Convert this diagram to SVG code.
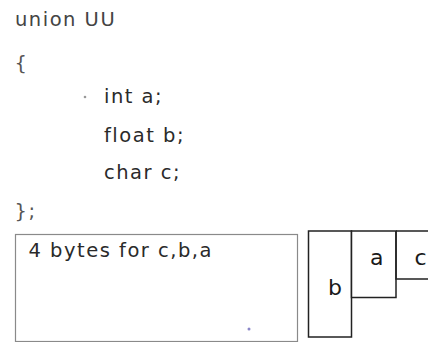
<svg xmlns="http://www.w3.org/2000/svg" width="428" height="342" viewBox="0 0 428 342">
<style>
.code{font-family:"DejaVu Sans","Verdana",sans-serif;font-size:19.5px;letter-spacing:1.5px;fill:#2a2a2a}
.lbl{font-family:"DejaVu Sans","Verdana",sans-serif;font-size:22px;fill:#1a1a1a}
.cell{fill:#ffffff;stroke:#222222;stroke-width:1.5}
</style>
<rect width="428" height="342" fill="#ffffff"/>
<g id="code">
<text class="code" x="15" y="26" style="fill:#444">union UU</text>
<text class="code" x="14.5" y="70" style="fill:#555">{</text>
<circle cx="85" cy="97" r="1.3" fill="#999"/>
<text class="code" x="104" y="103">int a;</text>
<text class="code" x="104" y="141.5">float b;</text>
<text class="code" x="104" y="179">char c;</text>
<text class="code" x="14.5" y="218" style="fill:#555">};</text>
</g>
<g id="bytes-box">
<rect x="15.5" y="234.5" width="282" height="107" fill="#ffffff" stroke="#8a8a8a" stroke-width="1.2"/>
<text class="code" x="28.5" y="256.5">4 bytes for c,b,a</text>
<circle cx="249" cy="329" r="1.5" fill="#8a86c8"/>
</g>
<g id="cell-b">
<rect class="cell" x="308.5" y="231" width="43" height="106"/>
<text class="lbl" x="328" y="295">b</text>
</g>
<g id="cell-a">
<rect class="cell" x="351.5" y="231" width="44.5" height="66.5"/>
<text class="lbl" x="370" y="265">a</text>
</g>
<g id="cell-c">
<path d="M396 231 H430 M396 231 V279 H430" fill="none" stroke="#222222" stroke-width="1.5"/>
<text class="lbl" x="414.5" y="265">c</text>
</g>
</svg>
